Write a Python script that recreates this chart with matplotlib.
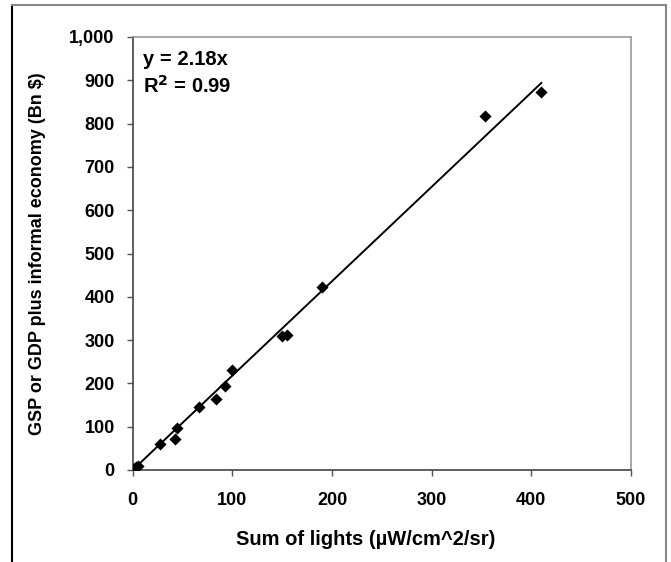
import matplotlib
matplotlib.use("Agg")
import matplotlib.pyplot as plt
from matplotlib.lines import Line2D
import numpy as np

plt.rcParams['font.family'] = ['Liberation Sans', 'DejaVu Sans']
plt.rcParams['font.weight'] = 'bold'

# Data
lights = [0.5, 1.5, 2.5, 3.5, 5, 27, 42, 44, 67, 84, 93, 100, 150, 155, 190, 354, 410]
gdp = [1, 3, 5, 6, 9, 61, 71, 98, 146, 163, 194, 231, 310, 312, 422, 818, 872]
slope = 2.18
x_ticks = [0, 100, 200, 300, 400, 500]
y_ticks = [0, 100, 200, 300, 400, 500, 600, 700, 800, 900, 1000]

fig = plt.figure(figsize=(6.71, 5.62), dpi=100)
ax = fig.add_axes([132.7 / 671, 92 / 562, (631 - 132.7) / 671, (470 - 37) / 562])

ax.scatter(lights, gdp, marker='D', s=38, color='black', zorder=3, linewidths=0)
xl = np.array([0, max(lights)])
ax.plot(xl, slope * xl, color='black', lw=1.4, zorder=2)

ax.set_xlim(0, 500)
ax.set_ylim(0, 1000)
ax.set_xticks(x_ticks)
ax.set_yticks(y_ticks)
ax.set_yticklabels([f"{v:,}" for v in y_ticks])
ax.tick_params(axis='both', direction='out', length=4.5, width=1, labelsize=13, colors='black')
ax.tick_params(axis='x', pad=11, color='#555555')
ax.tick_params(axis='y', pad=8.5, color='#555555')
for lab in ax.get_xticklabels() + ax.get_yticklabels():
    lab.set_fontweight('bold')

ax.spines['left'].set_color('#444444')
ax.spines['bottom'].set_color('#444444')
ax.spines['top'].set_color('#9a9a9a')
ax.spines['right'].set_color('#9a9a9a')
for s in ax.spines.values():
    s.set_linewidth(1.2)

ax.set_xlabel('Sum of lights (\u00b5W/cm^2/sr)', fontsize=14.5, fontweight='bold')
ax.xaxis.set_label_coords(0.468, -0.138)
ax.set_ylabel('GSP or GDP plus informal economy (Bn $)', fontsize=13, fontweight='bold', labelpad=17)

ax.text(0.02, 0.97, 'y = 2.18x', transform=ax.transAxes, fontsize=14.5, fontweight='bold', va='top', ha='left')
ax.text(0.02, 0.913, 'R$^\\mathbf{2}$ = 0.99', transform=ax.transAxes, fontsize=14.5, fontweight='bold', va='top', ha='left')

# outer frame lines
W, H = 671, 562
fig.add_artist(Line2D([12 / W, 12 / W], [0, 1 - 5 / H], color='black', lw=1.5, transform=fig.transFigure))
fig.add_artist(Line2D([12 / W, 666 / W], [1 - 5 / H, 1 - 5 / H], color='#888888', lw=1.5, transform=fig.transFigure))
fig.add_artist(Line2D([666 / W, 666 / W], [0, 1 - 5 / H], color='#888888', lw=1.5, transform=fig.transFigure))

fig.savefig('out.png', dpi=100)
